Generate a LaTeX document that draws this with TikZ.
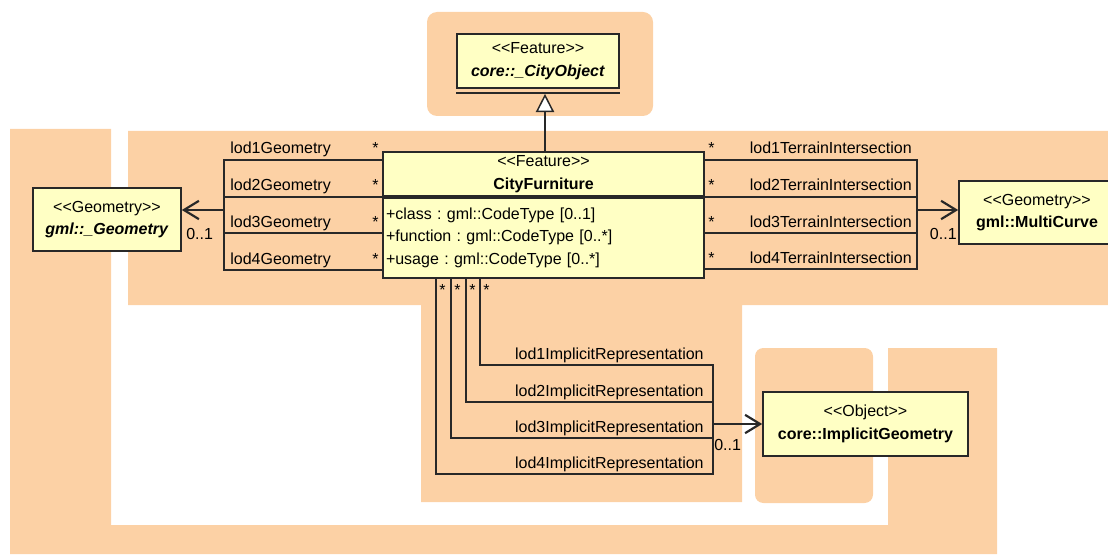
\documentclass[tikz,border=0pt]{standalone}
\usepackage{fontspec}
\setmainfont{Liberation Sans}
\usetikzlibrary{positioning,arrows.meta}

\definecolor{pkgorange}{RGB}{252,209,165}
\definecolor{classyellow}{RGB}{255,255,196}
\definecolor{umlline}{RGB}{40,40,40}

\newcommand{\stereo}[1]{<{}<#1>{}>}
\newcommand{\pxl}{0.6pt}

\tikzset{
   umlbox/.style={draw=umlline, line width=1pt, fill=classyellow, inner sep=0pt, align=center},
   assoc/.style={draw=umlline, line width=0.8pt},
   navarrow/.style={draw=umlline, line width=1.3pt, -{Straight Barb[length=9pt,width=11pt]}},
   genarrow/.style={draw=umlline, line width=0.9pt, -{Triangle[open,length=11pt,width=11pt,fill=white]}},
   lbl/.style={inner sep=0pt}
}

\begin{document}
\frenchspacing
\begin{tikzpicture}[x=0.6pt, y=-0.6pt, font=\fontsize{9.6}{13.5}\selectfont]
   \useasboundingbox (0,0) rectangle (1108,554);
   \fill[pkgorange, rounded corners=6pt] (427,12) rectangle (653,116);
   \fill[pkgorange] (128,131) -- (1108,131) -- (1108,305) -- (742,305) -- (742,502)
      -- (421,502) -- (421,305) -- (128,305) -- cycle;
   \fill[pkgorange] (10,129) -- (111,129) -- (111,525) -- (888,525) -- (888,348)
      -- (997,348) -- (997,554) -- (10,554) -- cycle;
   \fill[pkgorange, rounded corners=5pt] (755,348) rectangle (873,503);

   \node[umlbox, minimum width=162*\pxl, minimum height=54*\pxl] (co) at (538,61)
      {\stereo{Feature}\\\textbf{\textit{core::\_CityObject}}};
   \draw[umlline, line width=1pt] ([yshift=-4*\pxl]co.south west) -- ([yshift=-4*\pxl]co.south east);
   \coordinate (cotip) at ([yshift=-5*\pxl]co.south);
   \node[umlbox, minimum width=321*\pxl, minimum height=44*\pxl] (cfh) at (543.5,174)
      {\stereo{Feature}\\\textbf{CityFurniture}};
   \node[umlbox, minimum width=321*\pxl, minimum height=80*\pxl, text width=315*\pxl,
      align=left, below=0pt of cfh] (cfa)
      {+class : gml::CodeType [0..1]\\+function : gml::CodeType [0..*]\\+usage : gml::CodeType [0..*]};
   \node[umlbox, minimum width=148*\pxl, minimum height=63*\pxl] (geo) at (107,219.5)
      {\stereo{Geometry}\\\textbf{\textit{gml::\_Geometry}}};
   \node[umlbox, minimum width=156*\pxl, minimum height=63*\pxl] (mc) at (1037,212.5)
      {\stereo{Geometry}\\\textbf{gml::MultiCurve}};
   \node[umlbox, minimum width=205*\pxl, minimum height=64*\pxl] (ig) at (865.5,424)
      {\stereo{Object}\\\textbf{core::ImplicitGeometry}};

   \draw[genarrow] (cfh.north -| 545,0) -- (cotip -| 545,0);

   \coordinate (gbus) at (224,210);
   \foreach \y [count=\i] in {160,197,233,270}{
      \draw[assoc] (cfh.west |- 0,\y) -| (gbus);
      \node[lbl, anchor=base west] at (230,\y-6) {lod\i Geometry};
      \node[lbl, anchor=base east] at (379,\y-6) {*};
   }
   \draw[navarrow] (gbus) -- (gbus -| geo.east);
   \node[lbl, anchor=base west] at (186,239) {0..1};

   \coordinate (tbus) at (917,210);
   \foreach \y [count=\i] in {160,197,233,269}{
      \draw[assoc] (cfh.east |- 0,\y) -| (tbus);
      \node[lbl, anchor=base east] at (912,\y-6) {lod\i TerrainIntersection};
      \node[lbl, anchor=base west] at (708,\y-6) {*};
   }
   \draw[navarrow] (tbus) -- (tbus -| mc.west);
   \node[lbl, anchor=base east] at (957,239) {0..1};

   \coordinate (ibus) at (713,424);
   \foreach \x/\y [count=\i] in {480/365,466/402,451/438,436/474}{
      \coordinate (ie\i) at (713,\y);
      \draw[assoc] (cfa.south -| \x,0) |- (ie\i) -- (ibus);
      \node[lbl, anchor=base east] at (704,\y-6) {lod\i ImplicitRepresentation};
      \node[lbl, anchor=north west] at (\x+3,284) {*};
   }
   \draw[navarrow] (ibus) -- (ig.west);
   \node[lbl, anchor=base west] at (714,450) {0..1};
\end{tikzpicture}
\end{document}
